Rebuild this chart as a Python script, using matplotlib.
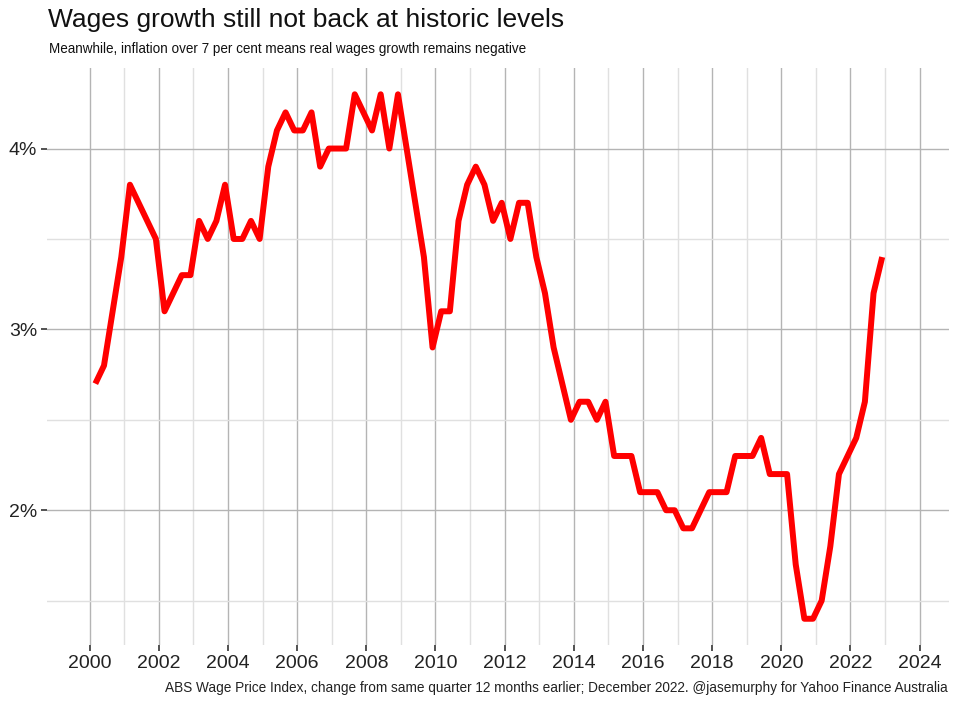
import numpy as np
import matplotlib
matplotlib.use('Agg')
import matplotlib.pyplot as plt
from matplotlib.ticker import FixedLocator, FuncFormatter

# quarterly annual wage growth, Mar 2000 .. Dec 2022
years = list(range(2000, 2023))
months = [3, 6, 9, 12]
wage_growth = [
    2.7, 2.8, 3.1, 3.4,   # 2000
    3.8, 3.7, 3.6, 3.5,   # 2001
    3.1, 3.2, 3.3, 3.3,   # 2002
    3.6, 3.5, 3.6, 3.8,   # 2003
    3.5, 3.5, 3.6, 3.5,   # 2004
    3.9, 4.1, 4.2, 4.1,   # 2005
    4.1, 4.2, 3.9, 4.0,   # 2006
    4.0, 4.0, 4.3, 4.2,   # 2007
    4.1, 4.3, 4.0, 4.3,   # 2008
    4.0, 3.7, 3.4, 2.9,   # 2009
    3.1, 3.1, 3.6, 3.8,   # 2010
    3.9, 3.8, 3.6, 3.7,   # 2011
    3.5, 3.7, 3.7, 3.4,   # 2012
    3.2, 2.9, 2.7, 2.5,   # 2013
    2.6, 2.6, 2.5, 2.6,   # 2014
    2.3, 2.3, 2.3, 2.1,   # 2015
    2.1, 2.1, 2.0, 2.0,   # 2016
    1.9, 1.9, 2.0, 2.1,   # 2017
    2.1, 2.1, 2.3, 2.3,   # 2018
    2.3, 2.4, 2.2, 2.2,   # 2019
    2.2, 1.7, 1.4, 1.4,   # 2020
    1.5, 1.8, 2.2, 2.3,   # 2021
    2.4, 2.6, 3.2, 3.4,   # 2022
]
x_ticks = list(range(2000, 2025, 2))
y_ticks = [2, 3, 4]

title = 'Wages growth still not back at historic levels'
subtitle = 'Meanwhile, inflation over 7 per cent means real wages growth remains negative'
caption = ('ABS Wage Price Index, change from same quarter 12 months earlier; '
           'December 2022. @jasemurphy for Yahoo Finance Australia')

dates = [y + (m - 1) / 12 for y in years for m in months]

plt.rcParams['font.family'] = ['Liberation Sans', 'DejaVu Sans']

fig = plt.figure(figsize=(9.6, 7.09), dpi=100)
ax = fig.add_axes([0.049, 0.0903, 0.9396, 0.8137])

ax.plot(dates, wage_growth, color='#ff0000', lw=4.3,
        solid_joinstyle='round', solid_capstyle='butt', zorder=3)

ax.set_xlim(1998.77, 2024.85)
ax.set_ylim(1.255, 4.445)

ax.xaxis.set_major_locator(FixedLocator(x_ticks))
ax.xaxis.set_minor_locator(FixedLocator([t + 1 for t in x_ticks]))
ax.yaxis.set_major_locator(FixedLocator(y_ticks))
ax.yaxis.set_minor_locator(FixedLocator([t - 0.5 for t in y_ticks] + [4.5]))
ax.yaxis.set_major_formatter(FuncFormatter(lambda v, p: f'{v:.0f}%'))

ax.grid(which='major', color='#b4b4b4', lw=1.0)
ax.grid(which='minor', color='#e0e0e0', lw=1.0)
ax.set_axisbelow(True)
for s in ax.spines.values():
    s.set_visible(False)

ax.tick_params(axis='x', which='major', length=4, width=1.2, color='#333333',
               labelsize=14, labelcolor='#222222', pad=3)
ax.tick_params(axis='y', which='major', length=4, width=1.2, color='#333333',
               labelsize=14, labelcolor='#222222', pad=3)
ax.tick_params(which='minor', length=0)

fig.text(0.05, 0.972, title, fontsize=19, color='#111111', va='center', ha='left')
fig.text(0.051, 0.931, subtitle, fontsize=9.75, color='#111111', va='center', ha='left')
fig.text(0.9875, 0.0296, caption, fontsize=9.8, color='#222222', va='center', ha='right')

fig.savefig('out.png', dpi=100)
